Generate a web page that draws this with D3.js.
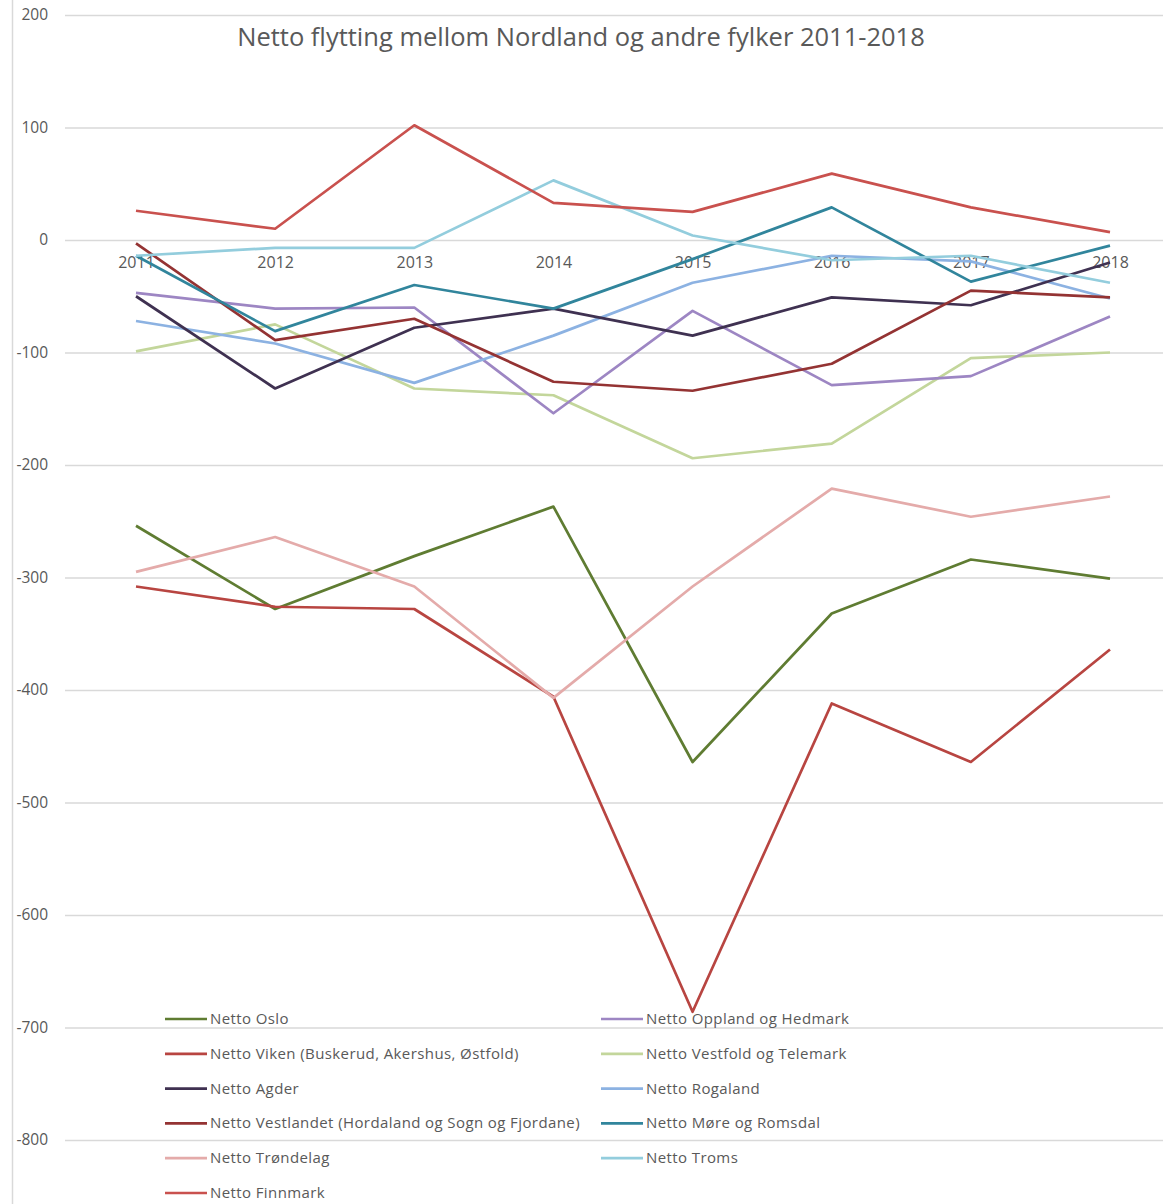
<!DOCTYPE html>
<html>
<head>
<meta charset="utf-8">
<script src="https://cdn.jsdelivr.net/npm/d3@7"></script>
<style>
  body { margin: 0; background: #fff; }
  text { font-family: "Open Sans", sans-serif; fill: #595959; }
</style>
</head>
<body>
<svg id="canvas"></svg>
<script>
// Canvas size
var canvasWidth = 1163;
var canvasHeight = 1204;

// Data
var years = ['2011', '2012', '2013', '2014', '2015', '2016', '2017', '2018'];
var yTicks = [200, 100, 0, -100, -200, -300, -400, -500, -600, -700, -800];

var seriesNames = [
  'Netto Oslo',
  'Netto Oppland og Hedmark',
  'Netto Viken (Buskerud, Akershus, Østfold)',
  'Netto Vestfold og Telemark',
  'Netto Agder',
  'Netto Rogaland',
  'Netto Vestlandet (Hordaland og Sogn og Fjordane)',
  'Netto Møre og Romsdal',
  'Netto Trøndelag',
  'Netto Troms',
  'Netto Finnmark'
];

var oslo = [-254, -328, -281, -237, -464, -332, -284, -301];
var oppland = [-47, -61, -60, -154, -63, -129, -121, -68];
var viken = [-308, -326, -328, -406, -686, -412, -464, -364];
var vestfold = [-99, -75, -132, -138, -194, -181, -105, -100];
var agder = [-50, -132, -78, -61, -85, -51, -58, -20];
var rogaland = [-72, -92, -127, -85, -38, -14, -19, -52];
var vestlandet = [-3, -89, -70, -126, -134, -110, -45, -51];
var more = [-14, -81, -40, -61, -17, 29, -37, -5];
var trondelag = [-295, -264, -308, -407, -308, -221, -246, -228];
var troms = [-14, -7, -7, 53, 4, -18, -14, -38];
var finnmark = [26, 10, 102, 33, 25, 59, 29, 7];

var seriesValues = [oslo, oppland, viken, vestfold, agder, rogaland, vestlandet, more, trondelag, troms, finnmark];

var seriesColors = ['#5f7c32', '#9d86c3', '#b84541', '#c3d69b', '#3f3151', '#8cb2e2',
  '#943333', '#31859c', '#e4abaa', '#93cddd', '#c9514e'];

// Drawing order (back to front)
var drawOrder = [0, 2, 8, 3, 1, 5, 4, 6, 7, 9, 10];

var svg = d3.select('#canvas')
  .attr('width', canvasWidth)
  .attr('height', canvasHeight);

// Scales
var xScale = d3.scalePoint()
  .domain(years)
  .range([136, 1110]);

var yScale = d3.scaleLinear()
  .domain([-800, 200])
  .range([1140, 15]);

// Left border line
svg.append('line')
  .attr('x1', 12.5).attr('x2', 12.5)
  .attr('y1', 0).attr('y2', canvasHeight)
  .attr('stroke', '#d9d9d9')
  .attr('stroke-width', 1.5);

// Y axis with gridlines
var yAxis = d3.axisLeft(yScale)
  .tickValues(yTicks)
  .tickSize(-(canvasWidth - 65))
  .tickPadding(17)
  .tickFormat(d3.format('d'));

var yAxisG = svg.append('g')
  .attr('class', 'y-axis')
  .attr('transform', 'translate(65,0)')
  .call(yAxis);

yAxisG.select('.domain').remove();
yAxisG.selectAll('line')
  .attr('stroke', '#d9d9d9')
  .attr('stroke-width', 1.5);
yAxisG.selectAll('text')
  .style('font-size', '15.5px')
  .attr('fill', '#595959')
  .text(function(d) { return d < 0 ? '-' + Math.abs(d) : d; });

// X axis on the zero line
var xAxis = d3.axisBottom(xScale)
  .tickSize(0)
  .tickPadding(17);

var xAxisG = svg.append('g')
  .attr('class', 'x-axis')
  .attr('transform', 'translate(0,' + yScale(0) + ')')
  .call(xAxis);

xAxisG.select('.domain').remove();
xAxisG.selectAll('text')
  .style('font-size', '16px')
  .attr('fill', '#595959');

// Lines
var line = d3.line()
  .x(function(d, i) { return xScale(years[i]); })
  .y(function(d) { return yScale(d); });

svg.append('g')
  .classed('lines', true)
  .selectAll('path')
  .data(drawOrder)
  .enter()
  .append('path')
  .attr('d', function(k) { return line(seriesValues[k]); })
  .attr('fill', 'none')
  .attr('stroke', function(k) { return seriesColors[k]; })
  .attr('stroke-width', 2.7)
  .attr('stroke-linejoin', 'round');

// Title
svg.append('text')
  .attr('x', 581)
  .attr('y', 46)
  .attr('text-anchor', 'middle')
  .style('font-size', '25.5px')
  .text('Netto flytting mellom Nordland og andre fylker 2011-2018');

// Legend
var legend = svg.append('g')
  .classed('legend', true)
  .selectAll('g')
  .data(seriesNames)
  .enter()
  .append('g')
  .attr('transform', function(d, i) {
    var col = i % 2;
    var row = Math.floor(i / 2);
    return 'translate(' + (col === 0 ? 165 : 601) + ',' + (1019 + row * 34.8) + ')';
  });

legend.append('line')
  .attr('x1', 0).attr('x2', 42)
  .attr('y1', 0).attr('y2', 0)
  .attr('stroke', function(d, i) { return seriesColors[i]; })
  .attr('stroke-width', 2.7);

legend.append('text')
  .attr('x', 45)
  .attr('y', 5)
  .style('font-size', '15px')
  .style('letter-spacing', '0.4px')
  .text(function(d) { return d; });
</script>
</body>
</html>
